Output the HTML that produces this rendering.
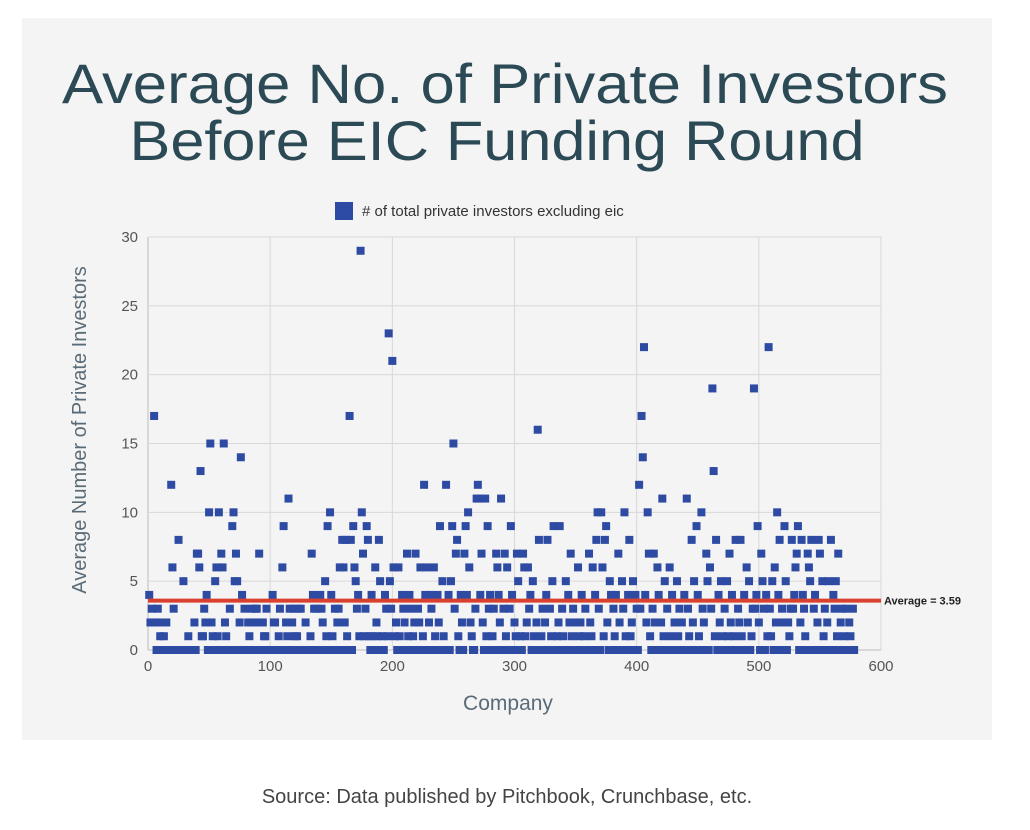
<!DOCTYPE html>
<html><head><meta charset="utf-8"><style>
html,body{margin:0;padding:0;background:#fff;}
svg{display:block;font-family:"Liberation Sans",sans-serif;}
</style></head><body>
<svg id="chart" width="1030" height="830" viewBox="0 0 1030 830">
<rect x="22" y="18" width="970" height="722" fill="#f4f4f4"/>
<text x="505" y="103" text-anchor="middle" font-size="56" fill="#2c4a55" textLength="886" lengthAdjust="spacingAndGlyphs">Average No. of Private Investors</text>
<text x="497" y="160" text-anchor="middle" font-size="56" fill="#2c4a55" textLength="735" lengthAdjust="spacingAndGlyphs">Before EIC Funding Round</text>
<g>
<rect x="335" y="202" width="18" height="18" fill="#2e4ba3"/>
<text x="362" y="216" font-size="15" fill="#333"># of total private investors excluding eic</text>
</g>
<g id="grid"></g>
<g id="marks"></g>
<text x="508" y="710" text-anchor="middle" font-size="21" fill="#5a6b78">Company</text>
<text transform="translate(86,430) rotate(-90)" text-anchor="middle" font-size="20" fill="#5a6b78">Average Number of Private Investors</text>
<text x="507" y="803" text-anchor="middle" font-size="20" fill="#444">Source: Data published by Pitchbook, Crunchbase, etc.</text>
</svg>
<script>
const xTicks = [0,100,200,300,400,500,600];
const yTicks = [0,5,10,15,20,25,30];
const averageValue = 3.59;
const values = [
4,2,3,2,17,2,0,3,2,1,0,0,1,0,2,0,0,0,12,6,3,0,0,0,8,0,0,0,5,0,0,0,1,0,0,0,0,2,0,7,
7,6,13,1,1,3,2,4,0,10,15,2,1,0,5,6,1,10,0,7,6,15,2,1,0,0,3,0,9,10,5,7,5,0,2,14,4,0,3,0,
0,2,1,0,3,2,0,3,3,2,7,0,0,2,1,1,3,0,0,0,0,4,2,2,0,0,1,3,0,6,9,0,2,1,11,3,0,2,3,1,
0,1,3,0,3,0,0,0,2,0,0,0,1,7,4,3,0,3,0,0,4,3,2,0,5,1,9,0,10,4,1,0,3,0,2,3,6,0,8,6,
2,8,1,0,17,8,0,9,6,5,3,4,1,29,10,7,1,3,9,8,1,0,4,1,0,6,2,1,8,5,0,1,0,4,3,1,23,5,3,21,
6,1,2,0,6,1,0,4,3,2,0,7,1,4,3,0,1,2,7,0,3,2,6,0,1,12,4,6,0,2,4,3,0,6,1,0,4,2,9,0,
5,1,0,12,0,4,0,5,9,15,3,7,8,1,0,4,2,0,7,9,4,10,6,2,1,0,0,3,11,12,11,4,7,2,0,11,1,9,3,4,
0,1,3,0,7,6,4,2,11,0,3,7,1,6,0,3,9,4,0,2,1,7,5,0,1,0,7,6,1,2,6,3,4,0,5,1,0,2,16,8,
0,1,3,0,2,4,8,0,3,1,5,9,0,0,1,2,9,0,3,1,0,5,0,4,2,7,1,3,0,2,0,6,1,2,4,0,1,3,0,0,
7,2,1,6,0,4,8,10,3,0,10,6,1,8,9,2,0,5,4,0,3,1,4,0,7,2,0,5,3,10,1,0,4,8,1,2,5,0,4,3,
0,12,3,17,14,22,4,2,10,7,1,0,3,7,2,0,6,4,0,2,11,1,5,0,3,0,6,1,4,0,2,0,5,1,3,0,2,0,4,0,
11,3,1,0,8,2,5,0,9,4,1,0,10,3,2,0,7,5,0,6,3,19,13,1,8,0,4,2,5,1,0,3,0,5,1,7,2,4,0,1,
8,0,3,2,8,1,0,4,0,6,2,5,0,1,3,19,3,4,9,2,0,7,5,3,0,4,1,22,3,1,5,0,6,2,10,4,8,0,3,2,
9,5,0,2,1,3,8,3,4,6,7,9,0,2,8,4,3,1,0,7,6,5,8,0,3,4,0,2,8,7,0,5,1,3,0,2,5,0,8,0,
4,3,5,1,7,0,2,3,0,1,3,0,0,2,1,0,3,0
];
const NS = "http://www.w3.org/2000/svg";
const X0 = 148, X1 = 881, Y0 = 650, Y1 = 237;
function xs(v){ return X0 + (v/600)*(X1-X0); }
function ys(v){ return Y0 - (v/30)*(Y0-Y1); }
const grid = document.getElementById('grid');
const marks = document.getElementById('marks');
function mk(tag, attrs, parent){ const e=document.createElementNS(NS,tag); for(const k in attrs) e.setAttribute(k,attrs[k]); parent.appendChild(e); return e; }
xTicks.forEach(t=>{
  const l = mk('line',{x1:xs(t),x2:xs(t),y1:Y1,y2:Y0,stroke:t===0?'#bbb':'#d8d8d8','stroke-width':1},grid);
  
  
  const tx = mk('text',{x:xs(t),y:Y0+21,'text-anchor':'middle','font-size':15,fill:'#555'},grid);
  tx.textContent = t;
  
  
});
yTicks.forEach(t=>{
  const l = mk('line',{x1:X0,x2:X1,y1:ys(t),y2:ys(t),stroke:t===0?'#bbb':'#d8d8d8','stroke-width':1},grid);
  
  
  const tx = mk('text',{x:X0-10,y:ys(t)+5,'text-anchor':'end','font-size':15,fill:'#555'},grid);
  tx.textContent = t;
  
  
});
values.forEach((v,i)=>{
  const r = mk('rect',{x:xs(i+1)-4,y:ys(v)-4,width:8,height:8,fill:'#2e4ba3'},marks);
  
  
});
const avg = mk('line',{x1:X0,x2:X1,y1:ys(averageValue),y2:ys(averageValue),stroke:'#d9412e','stroke-width':4},marks);


const al = mk('text',{x:X1+3,y:ys(averageValue)+4,'font-size':11,'font-weight':'bold',fill:'#222'},marks);
al.textContent = 'Average = ' + averageValue;


</script>
</body></html>
